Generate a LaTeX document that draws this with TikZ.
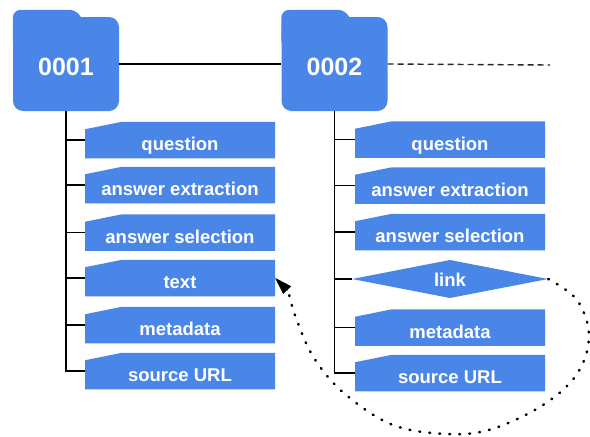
\documentclass[tikz,border=0pt]{standalone}
\usepackage{fontspec}
\setmainfont{Liberation Sans}
\usetikzlibrary{arrows.meta}
\definecolor{cardblue}{HTML}{4A86E8}
\begin{document}
\begin{tikzpicture}[x=1pt,y=-1pt,
  folder/.style={fill=cardblue, rounded corners=10pt, minimum width=106pt,
    minimum height=94pt, inner sep=0pt, text=white,
    font=\fontsize{25}{27}\selectfont\bfseries, text height=22pt, text depth=0pt},
  card/.style={minimum width=190pt, minimum height=36.5pt, inner sep=0pt,
    text=white, font=\fontsize{18.5}{20}\selectfont\bfseries,
    text height=21pt, text depth=0pt,
    path picture={\fill[cardblue]
      ([yshift=-7.5pt]path picture bounding box.north west)
      -- ([xshift=37pt]path picture bounding box.north west)
      -- (path picture bounding box.north east)
      -- (path picture bounding box.south east)
      -- (path picture bounding box.south west) -- cycle;}},
  linkcard/.style={minimum width=196pt, minimum height=38pt, inner sep=0pt,
    text=white, font=\fontsize{18.5}{20}\selectfont\bfseries,
    text height=14pt, text depth=0pt,
    path picture={\fill[cardblue]
      (path picture bounding box.west) -- (path picture bounding box.north)
      -- (path picture bounding box.east) -- (path picture bounding box.south)
      -- cycle;}},
  tree/.style={draw=black, line width=1.6pt},
  joinline/.style={draw=black, line width=1.4pt},
  trail/.style={draw=black!85, line width=1.4pt, dash pattern=on 6pt off 4pt},
  dots/.style={draw=black, line width=2.6pt, line cap=round,
    dash pattern=on 0.8pt off 9.2pt},
  headtip/.style={draw=black, line width=0.4pt, -{Triangle[length=17pt,width=11pt]}}
]
\useasboundingbox (0,0) rectangle (590,437);

% folder tabs and folder bodies
\node[folder] (f1) at (66,64) {0001};
\node[folder] (f2) at (334.5,64) {0002};
\foreach \f in {f1,f2}{
  \fill[cardblue, rounded corners=8pt]
    ([shift={(0,25)}]\f.north west) -- ([shift={(0,-7)}]\f.north west)
    [rounded corners=4pt] -- ([shift={(61,-7)}]\f.north west)
    -- ([shift={(69,0)}]\f.north west) [rounded corners=0pt]
    -- ([shift={(69,25)}]\f.north west) -- cycle;
}

% links between folders
\coordinate (tail) at (550,65);
\draw[joinline] (f1.east) -- (f2.west);
\draw[trail] (f2.east) -- (tail);

% fields of 0001
\node[card] (q1) at (180,140) {question};
\node[card] (ae1) at (180,185) {answer extraction};
\node[card] (as1) at (180,232.5) {answer selection};
\node[card] (t1) at (180,278) {text};
\node[card] (m1) at (180,325) {metadata};
\node[card] (s1) at (180,371) {source URL};

% fields of 0002
\node[card] (q2) at (450,139.5) {question};
\node[card] (ae2) at (450,185.5) {answer extraction};
\node[card] (as2) at (450,232) {answer selection};
\node[linkcard] (l2) at (450,279) {link};
\node[card] (m2) at (450,327.5) {metadata};
\node[card] (s2) at (450,373) {source URL};

% tree branches
\foreach \c in {q1,ae1,as1,t1,m1,s1}{ \draw[tree] (f1.south) |- (\c.west); }
\foreach \c in {q2,ae2,as2,l2,m2,s2}{ \draw[tree] (f2.south) |- (\c.west); }

% dotted reference from link back to text
\coordinate (d1) at (577,300);
\coordinate (d2) at (589,336);
\coordinate (d3) at (577,374);
\coordinate (d4) at (543,405);
\coordinate (d5) at (492,429);
\coordinate (d6) at (448,434);
\coordinate (d7) at (393,425);
\coordinate (d8) at (345,394);
\coordinate (d9) at (314,358);
\coordinate (d10) at (296,318);
\coordinate (d11) at (289,294);
\coordinate (hb) at (287.5,290.5);
\draw[dots]
  plot[smooth, tension=0.6] coordinates {(l2.east) (d1) (d2) (d3) (d4) (d5)
    (d6) (d7) (d8) (d9) (d10) (d11)};
\draw[headtip] (hb) -- (t1.east);
\end{tikzpicture}
\end{document}
